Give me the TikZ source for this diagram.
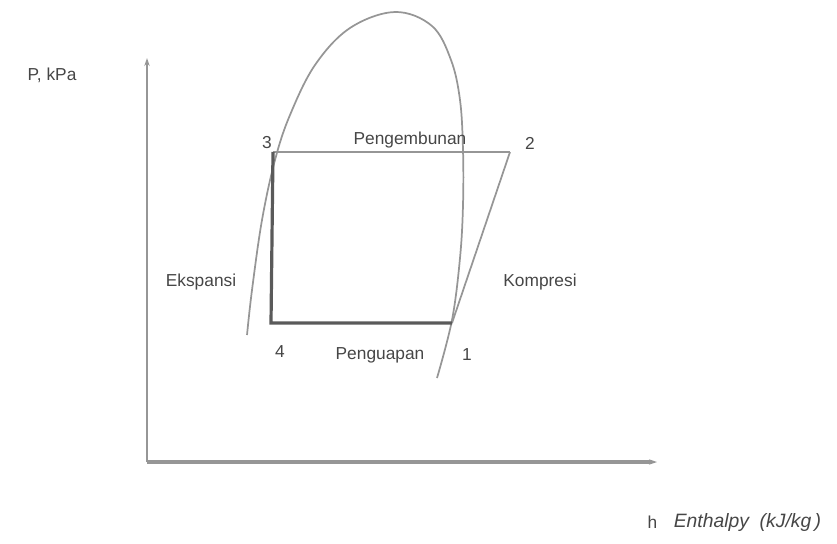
\documentclass[tikz,border=0pt]{standalone}
\usepackage{fontspec}
\setmainfont{Liberation Sans}
\usetikzlibrary{arrows.meta, positioning, calc}
\definecolor{linegray}{RGB}{150,150,150}
\definecolor{darkline}{RGB}{90,90,90}
\definecolor{txtgray}{RGB}{70,70,70}

\begin{document}
\begin{tikzpicture}[x=0.75pt, y=-0.75pt,
    lbl/.style={txtgray, font=\fontsize{13}{15}\selectfont, inner sep=1pt},
    axis/.style={linegray, line width=1.6pt, -{Stealth[length=6pt, width=4pt]}}]
  \useasboundingbox (0,0) rectangle (837,543);
  % Axes
  \coordinate (O) at (147,462);
  \coordinate (ytop) at (147,58);
  \coordinate (xend) at (657,462);
  \draw[axis] (O) -- (ytop);
  \draw[axis, line width=2.4pt] (O) -- (xend);
  \node[lbl] (ylab) at (52,75) {P, kPa};
  \node[lbl, anchor=west] (hlab) at (646,522) {h};
  \node[lbl, anchor=west, right=11pt of hlab.east, inner sep=0pt,
        font=\fontsize{14.5}{16}\selectfont] (hname) {\itshape Enthalpy\ \ (kJ/kg\,)};
  % Saturation dome
  \draw[linegray, line width=1.3pt] plot[smooth, tension=0.6] coordinates {
    (247,335) (252,290) (262,220) (275,160) (290,115) (315,65) (350,28)
    (395,12) (432,26) (451,60) (460,100) (463,150) (463,205) (460,258)
    (452,320) (437,378)};
  % Cycle points
  \coordinate (p1) at (452,323);
  \coordinate (p2) at (510,152);
  \coordinate (p3) at (273,152);
  \coordinate (p4) at (271,323);
  \draw[linegray, line width=1.6pt] (p3) -- (p2);
  \draw[linegray, line width=1.3pt] (p2) -- (p1);
  \draw[darkline, line width=2.4pt] (p1) -- (p4) -- (p3);
  % Labels
  \node[lbl] (n3) at (267,143) {3};
  \node[lbl] (n2) at (530,143) {2};
  \node[lbl] (n4) at (280,352) {4};
  \node[lbl] (n1) at (467,355) {1};
  \node[lbl] (cond) at (410,140) {Pengembunan};
  \node[lbl] (expn) at (201,282) {Ekspansi};
  \node[lbl] (comp) at (540,282) {Kompresi};
  \node[lbl] (evap) at (380,355) {Penguapan};
\end{tikzpicture}
\end{document}
